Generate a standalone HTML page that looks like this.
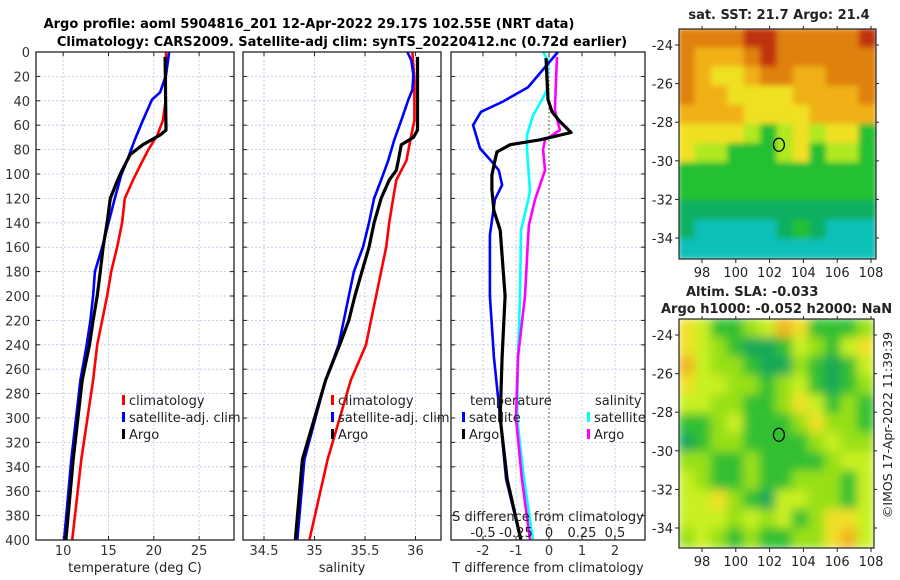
<!DOCTYPE html>
<html><head><meta charset="utf-8">
<style>
html,body{margin:0;padding:0;background:#fff;}
svg{display:block;font-family:"DejaVu Sans","Liberation Sans",sans-serif;}
</style></head>
<body>
<svg id="fig" width="900" height="580" viewBox="0 0 900 580" xmlns="http://www.w3.org/2000/svg">
<defs>
<filter id="blurS" x="0" y="0" width="1" height="1"><feGaussianBlur stdDeviation="3"/></filter>
<filter id="blurL" x="0" y="0" width="1" height="1"><feGaussianBlur stdDeviation="5"/></filter>
<clipPath id="clipTop"><rect x="679" y="29" width="197" height="230"/></clipPath>
<clipPath id="clipBot"><rect x="679" y="319" width="195" height="229"/></clipPath>
</defs>
<g font-weight="bold" font-size="13" text-anchor="middle">
<text x="309" y="28">Argo profile: aoml 5904816_201 12-Apr-2022 29.17S 102.55E (NRT data)</text>
<text x="342" y="46">Climatology: CARS2009. Satellite-adj clim: synTS_20220412.nc (0.72d earlier)</text>
</g>
<g id="panels"></g>
<g id="maps"></g>
<text transform="translate(892,425) rotate(-90)" text-anchor="middle" font-size="12.5" fill="#222">©IMOS 17-Apr-2022 11:39:39</text>
</svg>
<script>
// ---- data ----
const tempClimDepth=[0,40,56,68,80,93,105,120,140,160,180,200,220,240,269,334,400];
const tempClim=[21.36,21.3,21.0,20.4,19.4,18.5,17.7,16.8,16.5,15.95,15.3,14.85,14.3,13.75,13.3,12.0,11.0];
const tempSatDepth=[0,19,33,39,56,72,89,101,120,140,160,180,200,220,240,269,334,400];
const tempSat=[21.7,21.35,20.7,19.8,18.8,17.9,17.05,16.4,15.7,15.0,14.3,13.5,13.3,13.0,12.6,11.9,10.9,10.1];
const tempArgoDepth=[4,64,68,76,84,97,105,120,140,160,180,200,220,240,269,334,400];
const tempArgo=[21.25,21.35,20.7,18.8,17.4,16.5,16.0,15.2,14.85,14.4,14.1,13.75,13.3,12.9,12.1,11.1,10.3];
const salClimDepth=[0,23,56,72,89,105,120,140,160,180,200,220,240,269,334,400];
const salClim=[35.97,35.99,35.99,35.95,35.91,35.81,35.78,35.74,35.71,35.66,35.61,35.56,35.51,35.36,35.13,34.95];
const salSatDepth=[0,7,19,31,39,56,72,89,105,120,140,160,180,200,220,240,269,334,400];
const salSat=[35.92,35.96,35.98,35.97,35.93,35.86,35.79,35.73,35.66,35.59,35.54,35.48,35.39,35.34,35.29,35.24,35.11,34.9,34.83];
const salArgoDepth=[4,64,70,76,89,97,105,120,140,160,180,200,220,240,269,334,400];
const salArgo=[36.02,36.02,35.98,35.86,35.83,35.81,35.74,35.66,35.59,35.54,35.47,35.40,35.34,35.25,35.11,34.88,34.81];
const dTSatDepth=[0,29,41,49,60,79,90,97,109,121,150,200,250,300,350,400];
const dTSat=[0.27,-0.64,-1.42,-2.06,-2.30,-2.09,-1.73,-1.52,-1.42,-1.64,-1.79,-1.79,-1.67,-1.48,-1.30,-0.85];
const dTArgoDepth=[5,39,49,57,66,72,76,82,89,101,113,130,146,200,250,300,350,400];
const dTArgo=[-0.09,-0.03,0.09,0.33,0.67,-0.27,-1.18,-1.58,-1.64,-1.73,-1.73,-1.67,-1.48,-1.33,-1.42,-1.48,-1.27,-0.85];
const dSSatDepth=[0,7,31,39,52,68,80,114,122,146,200,250,300,350,400];
const dSSat=[-0.045,-0.008,-0.015,-0.053,-0.121,-0.167,-0.167,-0.144,-0.159,-0.212,-0.22,-0.235,-0.242,-0.189,-0.121];
const dSArgoDepth=[4,23,48,64,72,80,97,121,142,154,200,250,300,350,400];
const dSArgo=[0.061,0.053,0.045,0.083,-0.03,-0.045,-0.03,-0.106,-0.152,-0.159,-0.182,-0.235,-0.25,-0.205,-0.144];
const depthTicks=[0,20,40,60,80,100,120,140,160,180,200,220,240,260,280,300,320,340,360,380,400];
const tempTicks=[10,15,20,25];
const salTicks=[34.5,35,35.5,36];
const dTTicks=[-2,-1,0,1,2];
const dSTicks=[-0.5,-0.25,0,0.25,0.5];
const dSTickLabels=["-0.5","-0.25","0","0.25","0.5"];
const lonTicks=[98,100,102,104,106,108];
const latTicks=[-24,-26,-28,-30,-32,-34];
const argoLon=102.55, argoLat=-29.17;
const sstGrid=[
[5,5,5,5.5,6,6,5.5,5,5,5.5,5.5,6],
[5,4.5,4.5,4.5,5,6,5.5,5,5,5,5,5.5],
[5,4.5,4,4,4.5,5,5,4.5,4.5,5,5,5],
[5,4.5,4.5,4,4,4,4,4.5,4.5,4.5,4.5,5],
[4.5,4.5,4.5,4.5,4,4,3.5,4,4.5,4.5,4.5,4.5],
[3.5,3.5,4,3.5,3,2.5,3,4,3,4,3.5,2.5],
[3.5,3,3,2.5,2.5,2,3,3.5,2.5,3,3,2.5],
[2.5,2.5,2,2,2,2,2,2,2.5,2,2,2],
[2,2,2,2,2,2,2,2,2,2,2,2],
[1.5,1.5,1.5,1.5,1.5,1.5,1.5,1.5,1.5,1.5,1.5,1.5],
[1.5,1,1,1,1,0.5,1.5,2,1.5,1,1,1],
[0.5,0.5,0.5,0.5,0.5,0.5,0.5,1,1,1,0.5,0.5]];
const slaGrid=[
[4,3,1,1,2,3,5,4,1,1,1,2],
[4,3,2,1,0,0,1,3,2,1,3,4],
[5,3,2,2,1,0,0,2,1,0,1,3],
[4,3,3,2,2,1,2,3,1,0,1,2],
[3,3,2,2,1,1,2,4,3,1,2,1],
[1,1,2,3,1,1,1,2,4,2,2,1],
[0,1,2,2,1,1,1,1,2,3,2,2],
[2,2,1,1,2,1,1,1,1,2,3,3],
[3,2,1,1,2,1,1,2,2,2,1,3],
[3,3,4,2,1,0,3,3,2,2,1,3],
[3,3,3,2,3,2,3,1,2,4,4,3],
[2,3,2,1,2,1,1,2,2,4,5,3]];

// ---- helpers ----
const NS="http://www.w3.org/2000/svg";
function mk(tag,attrs,parent){const e=document.createElementNS(NS,tag);for(const k in attrs)e.setAttribute(k,attrs[k]);parent.appendChild(e);return e;}
const P=document.getElementById('panels');
const Y0=52,Y1=540;
const yD=d=>Y0+(d/400)*(Y1-Y0);
function panel(name,x0,x1,vmin,vmax){
  const g=mk('g',{},P);
  
  
  const sx=v=>x0+(v-vmin)/(vmax-vmin)*(x1-x0);
  return {g,sx,x0,x1};
}
function frame(p,xt,showDepth){
  const g=p.g;
  depthTicks.forEach(d=>{
    const y=yD(d);
    if(d>0&&d<400){const l=mk('line',{x1:p.x0,x2:p.x1,y1:y,y2:y,stroke:'#b8c4e0','stroke-width':0.8,'stroke-dasharray':'2,2'},g);
    
    }
    mk('line',{x1:p.x0,x2:p.x0+4,y1:y,y2:y,stroke:'#222'},g);
    mk('line',{x1:p.x1-4,x2:p.x1,y1:y,y2:y,stroke:'#222'},g);
    if(showDepth){const t=mk('text',{x:30,y:y+5,'text-anchor':'end','font-size':13,fill:'#333'},g);t.textContent=d;
    
    }
  });
  xt.forEach(v=>{
    const x=p.sx(v);
    const l=mk('line',{x1:x,x2:x,y1:Y0,y2:Y1,stroke:'#b8c4e0','stroke-width':0.8,'stroke-dasharray':'2,2'},g);
    
    
    mk('line',{x1:x,x2:x,y1:Y1,y2:Y1-4,stroke:'#222'},g);
    mk('line',{x1:x,x2:x,y1:Y0,y2:Y0+4,stroke:'#222'},g);
    const t=mk('text',{x:x,y:555,'text-anchor':'middle','font-size':13,fill:'#333'},g);t.textContent=v;
    
    
  });
}
function border(p){const r=mk('rect',{x:p.x0,y:Y0,width:p.x1-p.x0,height:Y1-Y0,fill:'none',stroke:'#222','stroke-width':1.3},p.g);
  
  }
function line(p,depths,vals,color,name,sc){
  const f=sc||p.sx;
  const pts=depths.map((d,i)=>f(vals[i]).toFixed(1)+','+yD(d).toFixed(1)).join(' ');
  const l=mk('polyline',{points:pts,fill:'none',stroke:color,'stroke-width':color==='#000'?3.2:2.6,'stroke-linejoin':'round'},p.g);
  
  
}
function label(g,x,y,txt,name,anchor,size){const t=mk('text',{x:x,y:y,'text-anchor':anchor||'start','font-size':size||13,fill:'#222'},g);t.textContent=txt;
  
  return t;}
function legendItem(g,x,y,color,txt,name){
  const r=mk('rect',{x:x,y:y-10,width:3,height:10,fill:color},g);
  
  
  label(g,x+7,y,txt,name);
}

// panel 1
const p1=panel('temperature-panel',36,234,7,28.85);
frame(p1,tempTicks,true);
line(p1,tempClimDepth,tempClim,'#ff0000','temperature-climatology-line');
line(p1,tempSatDepth,tempSat,'#0000ff','temperature-satellite-line');
line(p1,tempArgoDepth,tempArgo,'#000','temperature-argo-line');
border(p1);
legendItem(p1.g,122,405,'#ff0000','climatology','legend-climatology');
legendItem(p1.g,122,422,'#0000ff','satellite-adj. clim','legend-satellite');
legendItem(p1.g,122,439,'#000','Argo','legend-argo');
label(p1.g,135,572,'temperature (deg C)','temperature-axis-title','middle');

// panel 2
const p2=panel('salinity-panel',243,441,34.292,36.253);
frame(p2,salTicks,false);
line(p2,salClimDepth,salClim,'#ff0000','salinity-climatology-line');
line(p2,salSatDepth,salSat,'#0000ff','salinity-satellite-line');
line(p2,salArgoDepth,salArgo,'#000','salinity-argo-line');
border(p2);
legendItem(p2.g,331,405,'#ff0000','climatology','legend-climatology');
legendItem(p2.g,331,422,'#0000ff','satellite-adj. clim','legend-satellite');
legendItem(p2.g,331,439,'#000','Argo','legend-argo');
label(p2.g,342,572,'salinity','salinity-axis-title','middle');

// panel 3
const p3=panel('difference-panel',451,645,-2.97,2.91);
frame(p3,dTTicks,false);
const sS=v=>p3.sx(v*4);
const zl=mk('line',{x1:p3.sx(0),x2:p3.sx(0),y1:Y0,y2:Y1,stroke:'#606030','stroke-width':1.2,'stroke-dasharray':'1.5,2.5'},p3.g);


line(p3,dSSatDepth,dSSat,'#00ffff','salinity-diff-satellite-line',sS);
line(p3,dSArgoDepth,dSArgo,'#ff00ff','salinity-diff-argo-line',sS);
line(p3,dTSatDepth,dTSat,'#0000ff','temperature-diff-satellite-line');
line(p3,dTArgoDepth,dTArgo,'#000','temperature-diff-argo-line');
border(p3);
label(p3.g,470,405,'temperature','legend-temperature-heading');
legendItem(p3.g,462,422,'#0000ff','satellite','legend-temp-satellite');
legendItem(p3.g,462,439,'#000','Argo','legend-temp-argo');
label(p3.g,595,405,'salinity','legend-salinity-heading');
legendItem(p3.g,587,422,'#00ffff','satellite','legend-sal-satellite');
legendItem(p3.g,587,439,'#ff00ff','Argo','legend-sal-argo');
label(p3.g,548,521,'S difference from climatology','s-diff-axis-title','middle');
dSTicks.forEach((v,i)=>{label(p3.g,sS(v),537,dSTickLabels[i],'s-diff-tick-label','middle');});
label(p3.g,548,572,'T difference from climatology','t-diff-axis-title','middle');

// ---- maps ----
const M=document.getElementById('maps');
const sstCols=['#18b8f0','#10c0b8','#10b060','#20c030','#b0e820','#f0e020','#f0b018','#e08010','#c03008'];
const slaCols=['#18a858','#30c030','#98e018','#c8f020','#f0e028','#f0b420'];
function sstColor(v){const i=Math.round(v*(sstCols.length-1)/6);return sstCols[Math.max(0,Math.min(sstCols.length-1,i))];}
function map(name,x0,y0,w,h,grid,colf,filt,clip,yLat24,titleLines){
  const g=mk('g',{},M);
  
  
  const inner=mk('g',{'clip-path':'url(#'+clip+')'},g);
  const fg=mk('g',{filter:'url(#'+filt+')'},inner);
  const rows=grid.length,cols=grid[0].length,cw=w/cols,ch=h/rows;
  mk('rect',{x:x0,y:y0,width:w,height:h,fill:colf(grid[6][6])},fg);
  grid.forEach((row,r)=>row.forEach((v,c)=>{
    const cell=mk('rect',{x:(x0+c*cw-1).toFixed(1),y:(y0+r*ch-1).toFixed(1),width:(cw+2).toFixed(1),height:(ch+2).toFixed(1),fill:colf(v)},fg);
    
    
  }));
  const lonX=lon=>702+(lon-98)*16.9;
  const latY=lat=>yLat24+(-24-lat)*19.3;
  const fr=mk('rect',{x:x0,y:y0,width:w,height:h,fill:'none',stroke:'#222','stroke-width':1.2},g);
  
  
  lonTicks.forEach(l=>{const x=lonX(l);mk('line',{x1:x,x2:x,y1:y0+h,y2:y0+h+4,stroke:'#222'},g);mk('line',{x1:x,x2:x,y1:y0,y2:y0-3,stroke:'#222'},g);label(g,x,y0+h+18,String(l),'lon-tick-label','middle',13);});
  latTicks.forEach(l=>{const y=latY(l);mk('line',{x1:x0,x2:x0-4,y1:y,y2:y,stroke:'#222'},g);mk('line',{x1:x0+w,x2:x0+w+3,y1:y,y2:y,stroke:'#222'},g);label(g,x0-6,y+5,String(l),'lat-tick-label','end',13);});
  const c=mk('ellipse',{cx:lonX(argoLon),cy:latY(argoLat),rx:5.5,ry:6.5,fill:'none',stroke:'#000','stroke-width':1.3},g);
  
  
  titleLines.forEach(tl=>{const t=label(g,tl[0],tl[1],tl[2],tl[3],tl[4],13);t.setAttribute('font-weight','bold');});
}
map('sst-map',679,29,197,230,sstGrid,sstColor,'blurS','clipTop',45,[[779,19,'sat. SST: 21.7 Argo: 21.4','sst-map-title','middle']]);
map('sla-map',679,319,195,229,slaGrid,v=>slaCols[v],'blurL','clipBot',335,[[686,296,'Altim. SLA: -0.033','sla-map-title','start'],[661,313,'Argo h1000: -0.052 h2000: NaN','sla-map-subtitle','start']]);
</script>
</body></html>
